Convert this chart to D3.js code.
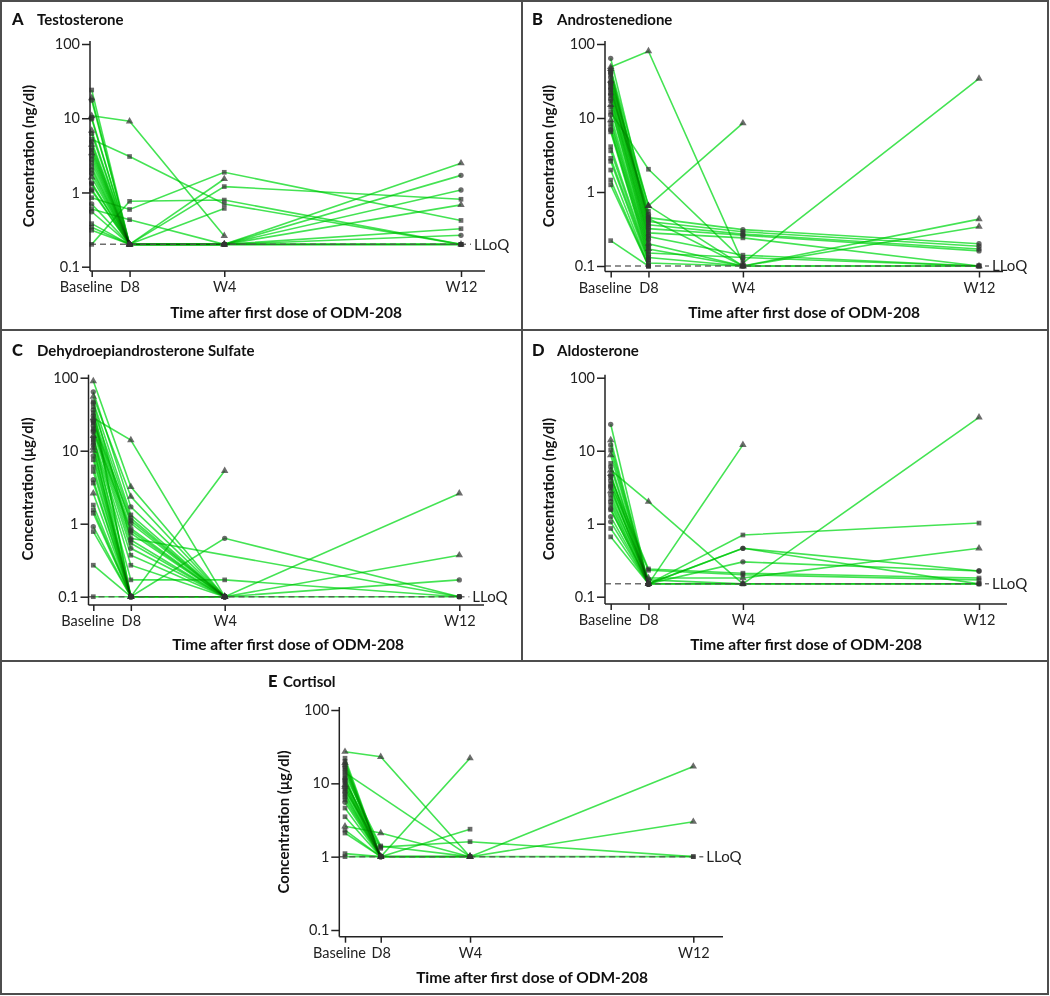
<!DOCTYPE html>
<html><head><meta charset="utf-8">
<script src="https://cdn.jsdelivr.net/npm/d3@7"></script>
<style>
body{margin:0;background:#fff;}
svg{display:block;font-family:Lato,"Open Sans",sans-serif;}
</style></head><body>
<svg id="chart" width="1050" height="996"></svg>
<script>
// ---- shared axis data ----
const timeLabels = ["Baseline", "D8", "W4", "W12"];
const timeDays = [0, 8, 28, 78];
const yTickValues = [0.1, 1, 10, 100];

// ---- A: Testosterone (ng/dl), LLoQ 0.2 ----
const testoBaseline = [24, 18.7, 17.5, 10.8, 10.2, 9.8, 6.8, 6.2, 5.2, 4.8, 4.4, 4.0, 3.7, 3.4, 3.1, 2.8, 2.5, 2.2, 2.0, 1.8, 1.6, 1.35, 1.3, 1.1, 1.05, 0.85, 0.7, 0.6, 0.55, 0.38, 0.34, 0.31, 0.2];
const testoD8 =       [0.2, 0.2, 0.2, 9.1, 0.2, 0.2, 0.2, 0.2, 3.05, 0.2, 0.2, 0.2, 0.2, 0.2, 0.2, 0.2, 0.2, 0.2, 0.2, 0.2, 0.2, 0.2, 0.2, 0.2, 0.2, 0.59, 0.2, 0.43, 0.2, 0.2, 0.2, 0.2, 0.76];
const testoW4 =       [null, null, null, 0.26, null, null, 0.2, null, 0.7, null, 1.52, null, 1.2, 0.2, null, 0.2, null, 0.61, 0.2, null, 0.2, null, 0.2, null, 0.2, 1.87, null, 0.2, null, null, 0.2, null, 0.79];
const testoW12 =      [null, null, null, null, null, null, 0.2, null, 0.2, null, null, null, 0.81, 2.48, null, 1.7, null, null, 1.08, null, 0.68, null, 0.325, null, 0.265, 0.42, null, 0.2, null, null, 0.2, null, 0.2];
const testoShape =    ["s","t","c","t","c","c","t","c","s","c","t","s","s","t","c","c","s","s","c","c","t","c","s","c","c","s","c","s","c","s","s","s","s"];

// ---- B: Androstenedione (ng/dl), LLoQ 0.1 ----
const androBaseline = [64, 49, 46, 44, 42, 40, 38, 35, 32, 30, 28, 26, 24, 22, 21, 20, 18, 17, 15, 14, 12, 11, 9.4, 8.5, 7.5, 6.9, 6.5, 4.1, 3.6, 2.85, 2.6, 1.98, 1.45, 1.25, 0.22, 30, 25];
const androD8 =       [0.5, 80, 0.65, 0.45, 0.42, 0.4, 0.38, 0.36, 0.65, 0.34, 0.32, 0.3, 0.28, 0.55, 0.26, 0.25, 0.23, 0.22, 0.2, 0.19, 2.03, 0.18, 0.17, 0.16, 0.15, 0.14, 0.13, 0.13, 0.12, 0.12, 0.11, 0.1, 0.1, 0.1, 0.1, 0.47, 0.44];
const androW4 =       [null, 0.11, 8.5, 0.31, null, 0.29, null, 0.27, 0.1, null, 0.26, null, 0.24, null, null, 0.14, null, null, 0.1, null, 0.12, null, 0.1, null, 0.13, null, null, 0.1, null, null, 0.1, null, null, null, null, null, 0.1];
const androW12 =      [null, 34, null, 0.2, null, 0.185, null, 0.17, 0.1, null, 0.16, null, 0.1, null, null, 0.1, null, null, 0.43, null, null, null, 0.34, null, 0.1, null, null, 0.1, null, null, null, null, null, null, null, null, null];
const androShape =    ["c","t","t","c","c","c","s","c","t","c","c","s","s","s","c","s","c","s","t","s","s","c","t","s","s","c","s","s","s","s","s","s","s","s","s","c","c"];

// ---- C: DHEA sulfate (µg/dl), LLoQ 0.1 ----
const dheasBaseline = [90, 64, 55, 47, 40, 36, 33, 30, 28, 26, 24, 22, 20, 18, 16, 15, 14, 13, 12, 11, 10, 8.5, 7.5, 6, 5.2, 4.0, 3.6, 2.6, 1.8, 1.54, 1.39, 0.91, 0.78, 0.27, 0.1, 45, 19, 25];
const dheasD8 =       [3.2, 1.7, 2.35, 1.32, 0.1, 1.19, 0.1, 1.01, 14, 0.86, 0.74, 0.63, 0.54, 0.46, 0.1, 0.37, 0.27, 0.17, 0.1, 0.1, 0.1, 0.1, 0.1, 0.1, 0.1, 0.1, 0.1, 0.1, 0.1, 0.1, 0.1, 0.1, 0.1, 0.1, 0.1, 0.6, 0.8, 1.1];
const dheasW4 =       [0.1, 0.1, 0.1, 0.1, null, 0.1, null, 0.1, 0.1, 0.1, 0.1, null, 0.1, 0.1, 5.3, 0.1, 0.1, 0.17, 0.63, 0.1, 0.1, 0.1, 0.1, null, null, null, null, null, null, null, null, null, null, null, null, 0.1, 0.1, 0.1];
const dheasW12 =      [null, null, null, null, null, null, null, null, null, null, null, 0.1, null, null, null, null, null, 0.1, 0.1, 2.6, 0.37, 0.17, 0.1, null, null, null, null, null, null, null, null, null, null, null, null, null, null, null];
const dheasShape =    ["t","c","t","s","s","c","s","c","t","c","s","c","s","c","t","s","s","s","c","t","t","c","s","s","s","c","s","t","s","s","s","c","s","s","s","c","c","c"];

// ---- D: Aldosterone (ng/dl), LLoQ 0.15 ----
const aldoBaseline = [23, 14, 12, 10.2, 8.7, 6.7, 5.4, 4.8, 4.3, 3.9, 3.5, 3.1, 2.8, 2.5, 2.2, 2.0, 1.8, 1.6, 1.55, 1.25, 1.06, 0.86, 0.66, 6.0, 4.5, 3.3];
const aldoD8 =       [0.15, 0.15, 0.15, 0.15, 0.15, 0.15, 2.0, 0.15, 0.24, 0.15, 0.23, 0.15, 0.18, 0.15, 0.17, 0.15, 0.15, 0.15, 0.15, 0.15, 0.15, 0.15, 0.15, 0.15, 0.15, 0.15];
const aldoW4 =       [null, null, 0.46, null, 0.15, 0.7, 0.15, 12, 0.21, 0.46, 0.2, 0.3, 0.18, null, 0.15, null, 0.15, null, null, null, null, null, null, null, null, null];
const aldoW12 =      [null, null, 0.225, null, 28.6, 1.02, null, null, 0.18, 0.15, 0.17, 0.225, 0.46, null, 0.15, null, 0.15, null, null, null, null, null, null, null, null, null];
const aldoShape =    ["c","t","c","s","t","s","t","t","s","c","s","c","t","c","s","c","s","c","s","c","c","s","s","c","c","c"];

// ---- E: Cortisol (µg/dl), LLoQ 1 ----
const cortBaseline = [27, 22, 20, 19, 18, 17, 16, 15, 14, 13, 12, 11.5, 11, 10.5, 10, 9.5, 9, 8.5, 8, 7.5, 7, 6.5, 6, 5.5, 4.6, 3.5, 2.6, 2.3, 2.1, 1.1, 1.0];
const cortD8 =       [23, 1, 1, 1, 1, 1, 1, 1, null, 1.4, 1, 1, 1, 1.35, 1, 1, 1, 1, 1.3, 1, 1, 1, 1, 1, 1, 1, 2.1, 1, 1, 1, 1];
const cortW4 =       [1, null, null, 22, null, null, null, null, 1, 1, null, null, 2.37, 1.6, null, 1, 1, null, null, null, null, null, null, null, null, null, 1, null, null, null, 1];
const cortW12 =      [null, null, null, null, null, null, null, null, null, null, null, null, null, 1, null, 17, 3.0, null, null, null, null, null, null, null, null, null, null, null, null, null, 1];
const cortShape =    ["t","s","s","t","s","c","s","s","s","s","s","c","s","s","s","t","t","s","s","c","s","s","s","c","s","s","t","s","s","s","s"];

// ---- panel definitions (layout only) ----
const panels = [
  {letter:"A", title:"Testosterone", unit:"Concentration (ng/dl)", lloq:0.2,
   data:[testoBaseline, testoD8, testoW4, testoW12], shapes:testoShape,
   letterX:12, titleX:37, titleY:25, yAxisX:90, baseX:91.7, w12X:461, axisEnd:485,
   y100:44, y01:266.7, xAxisY:271, yLabelX:29, yLabelY:156, xTitleX:286, xTitleY:318},
  {letter:"B", title:"Androstenedione", unit:"Concentration (ng/dl)", lloq:0.1,
   data:[androBaseline, androD8, androW4, androW12], shapes:androShape,
   letterX:532, titleX:557, titleY:25, yAxisX:605, baseX:610.7, w12X:979, axisEnd:1003,
   y100:44, y01:266, xAxisY:271.5, yLabelX:549, yLabelY:156, xTitleX:804, xTitleY:318},
  {letter:"C", title:"Dehydroepiandrosterone Sulfate", unit:"Concentration (\u03BCg/dl)", lloq:0.1,
   data:[dheasBaseline, dheasD8, dheasW4, dheasW12], shapes:dheasShape,
   letterX:12, titleX:37, titleY:356, yAxisX:88.5, baseX:93.3, w12X:459.3, axisEnd:484,
   y100:377.7, y01:596.7, xAxisY:605, yLabelX:28, yLabelY:489, xTitleX:288, xTitleY:650},
  {letter:"D", title:"Aldosterone", unit:"Concentration (ng/dl)", lloq:0.15,
   data:[aldoBaseline, aldoD8, aldoW4, aldoW12], shapes:aldoShape,
   letterX:532, titleX:557, titleY:356, yAxisX:605, baseX:610.7, w12X:979, axisEnd:1007,
   y100:377.7, y01:596.7, xAxisY:604, yLabelX:549, yLabelY:489, xTitleX:806, xTitleY:650},
  {letter:"E", title:"Cortisol", unit:"Concentration (\u03BCg/dl)", lloq:1,
   data:[cortBaseline, cortD8, cortW4, cortW12], shapes:cortShape,
   letterX:268, titleX:283, titleY:687, yAxisX:339.3, baseX:345, w12X:693.3, axisEnd:723,
   y100:710, y01:930, xAxisY:936.7, yLabelX:284, yLabelY:822, xTitleX:532, xTitleY:983}
];

const svg = d3.select("#chart");
const frameColor = "#4d4d4d";
// frame
const frame = svg.append("g").attr("stroke", frameColor).attr("stroke-width", 2).attr("fill", "none");
frame.append("rect").attr("x", 1).attr("y", 1).attr("width", 1047).attr("height", 993);
frame.append("line").attr("x1", 522).attr("x2", 522).attr("y1", 1).attr("y2", 661);
frame.append("line").attr("x1", 1).attr("x2", 1048).attr("y1", 330).attr("y2", 330);
frame.append("line").attr("x1", 1).attr("x2", 1048).attr("y1", 661).attr("y2", 661);

const symbolFor = {c: d3.symbolCircle, s: d3.symbolSquare, t: d3.symbolTriangle};
const green = "rgb(48,224,64)";

panels.forEach(p => {
  const g = svg.append("g");
  const x = d3.scaleLinear().domain([timeDays[0], timeDays[3]]).range([p.baseX, p.w12X]);
  const y = d3.scaleLog().domain([0.1, 100]).range([p.y01, p.y100]);

  // title
  g.append("text").attr("x", p.letterX).attr("y", p.titleY).attr("font-size", 16.5).attr("font-weight", 900).attr("fill", "#111").text(p.letter);
  g.append("text").attr("x", p.titleX).attr("y", p.titleY).attr("font-size", 15).attr("font-weight", 700).attr("fill", "#111").text(p.title);

  // patients lines
  const n = p.data[0].length;
  const patients = d3.range(n).map(i => timeDays.map((t, k) => ({t, v: p.data[k][i]})).filter(d => d.v != null));
  const line = d3.line().x(d => x(d.t)).y(d => y(d.v));
  const lg = g.append("g").style("mix-blend-mode", "multiply");
  lg.selectAll("path").data(patients).join("path")
    .attr("d", line).attr("fill", "none").attr("stroke", green)
    .attr("stroke-width", 1.6).attr("stroke-opacity", 0.9).style("mix-blend-mode", "multiply");

  // LLoQ dashed line
  g.append("line").attr("x1", p.yAxisX).attr("x2", p.w12X + 10)
    .attr("y1", y(p.lloq)).attr("y2", y(p.lloq))
    .attr("stroke", "#555").attr("stroke-width", 1.5).attr("stroke-dasharray", "6,4").attr("stroke-opacity", 0.85);
  g.append("text").attr("x", p.w12X + 13).attr("y", y(p.lloq)).attr("dy", "0.35em")
    .attr("font-size", 15).attr("fill", "#222").text("LLoQ");

  // markers
  const mg = g.append("g");
  patients.forEach((pts, i) => {
    mg.selectAll(null).data(pts).join("path")
      .attr("transform", d => `translate(${x(d.t)},${y(d.v)})`)
      .attr("d", d3.symbol().type(symbolFor[p.shapes[i]]).size(p.shapes[i] === "t" ? 24 : 22))
      .attr("fill", "#333").attr("fill-opacity", 0.72);
  });

  // y axis
  const yAxis = d3.axisLeft(y).tickValues(yTickValues).tickFormat(d => d < 1 ? "0.1" : String(d))
    .tickSize(8).tickPadding(2).tickSizeOuter(0);
  const ya = g.append("g").attr("transform", `translate(${p.yAxisX},0)`).call(yAxis);
  ya.select(".domain").remove();
  ya.selectAll(".tick line").attr("stroke", "#222").attr("stroke-width", 1.5);
  ya.selectAll(".tick text").attr("font-size", 14.5).attr("fill", "#222").attr("font-family", "Lato");
  g.append("line").attr("x1", p.yAxisX).attr("x2", p.yAxisX).attr("y1", p.y100 - 3).attr("y2", p.xAxisY)
    .attr("stroke", "#222").attr("stroke-width", 1.5);

  // x axis
  const xAxis = d3.axisBottom(x).tickValues(timeDays).tickFormat((d, i) => timeLabels[i])
    .tickSize(6).tickPadding(5).tickSizeOuter(0);
  const xa = g.append("g").attr("transform", `translate(0,${p.xAxisY})`).call(xAxis);
  xa.select(".domain").remove();
  xa.selectAll(".tick line").attr("stroke", "#222").attr("stroke-width", 1.5);
  xa.selectAll(".tick text").attr("font-size", 14.5).attr("fill", "#222").attr("font-family", "Lato")
    .attr("dx", (d, i) => i === 0 ? -6 : 0);
  g.append("line").attr("x1", p.yAxisX).attr("x2", p.axisEnd).attr("y1", p.xAxisY).attr("y2", p.xAxisY)
    .attr("stroke", "#222").attr("stroke-width", 1.5);

  // axis titles
  g.append("text").attr("transform", `translate(${p.yLabelX},${p.yLabelY}) rotate(-90)`)
    .attr("text-anchor", "middle").attr("dy", "0.35em").attr("font-size", 15).attr("font-weight", 700)
    .attr("fill", "#111").text(p.unit);
  g.append("text").attr("x", p.xTitleX).attr("y", p.xTitleY).attr("text-anchor", "middle")
    .attr("font-size", 15.5).attr("font-weight", 700).attr("fill", "#111").text("Time after first dose of ODM-208");
});
</script>
</body></html>
